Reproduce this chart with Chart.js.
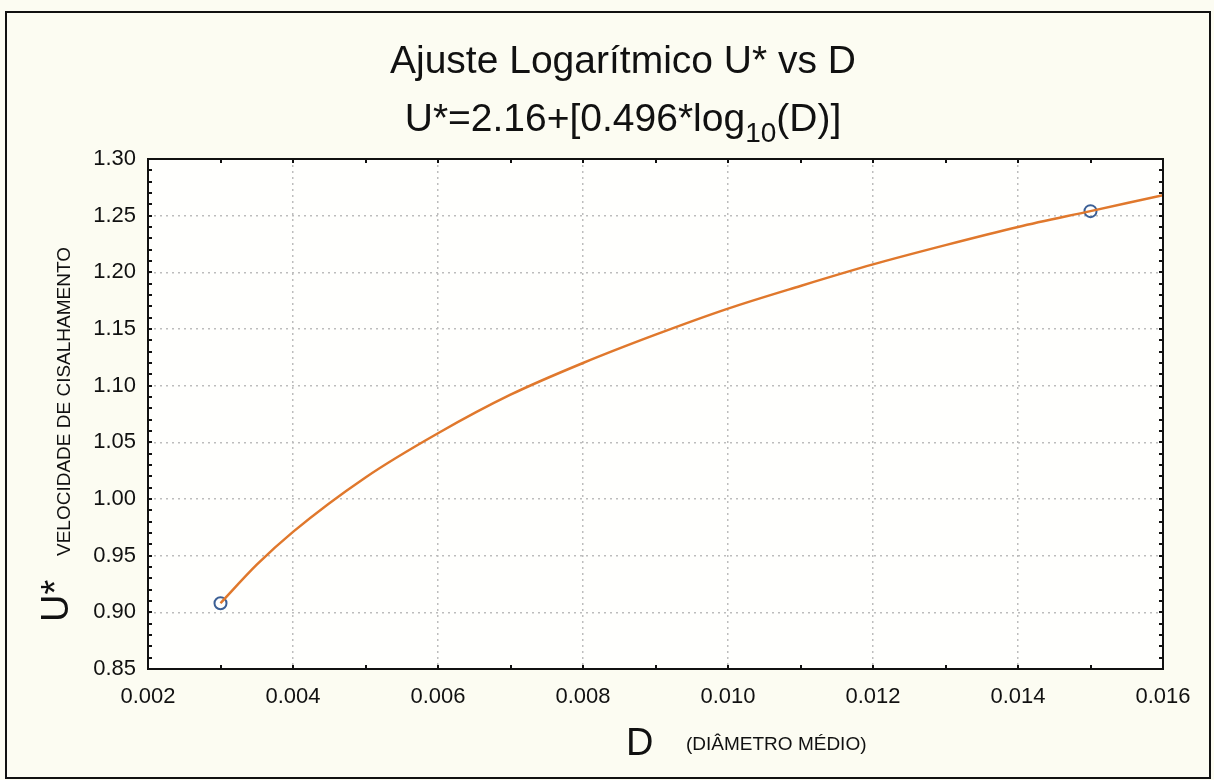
<!DOCTYPE html>
<html>
<head>
<meta charset="utf-8">
<script src="https://cdn.jsdelivr.net/npm/chart.js@4"></script>
<style>
    html, body { margin: 0; padding: 0; background: #fcfcf2; }
    #wrap { width: 1214px; height: 780px; }
</style>
</head>
<body>
<div id="wrap"><canvas id="fitChart" width="1214" height="780"></canvas></div>
<script>
// Measured points
const pointD = [0.003, 0.015];
const pointU = [0.908, 1.254];

// Fitted curve, read along D
const curveD = [0.003, 0.0035, 0.004, 0.005, 0.006, 0.007, 0.008, 0.009, 0.010, 0.011, 0.012, 0.013, 0.014, 0.015, 0.016];
const curveU = [0.908, 0.942, 0.971, 1.019, 1.058, 1.092, 1.120, 1.145, 1.168, 1.188, 1.207, 1.224, 1.240, 1.254, 1.268];

// Axis ranges and ticks
const xMin = 0.002, xMax = 0.016, xStep = 0.002, xMinorStep = 0.001;
const yMin = 0.85, yMax = 1.30, yStep = 0.05, yMinorStep = 0.01;

const titleLine1 = 'Ajuste Logarítmico U* vs D';
const titleLine2 = ['U*=2.16+[0.496*log', '10', '(D)]'];
const yTitleBig = 'U*';
const yTitleSmall = 'VELOCIDADE DE CISALHAMENTO';
const xTitleBig = 'D';
const xTitleSmall = '(DIÂMETRO MÉDIO)';

const fontFamily = '"Liberation Sans", Arial, sans-serif';

function toXY(xs, ys) {
    return xs.map((x, i) => ({ x: x, y: ys[i] }));
}

// Background, frame, minor ticks and titles
const decorations = {
    id: 'decorations',
    beforeDraw(chart) {
        const { ctx, chartArea: a } = chart;
        ctx.save();
        ctx.fillStyle = '#fcfcf2';
        ctx.fillRect(0, 0, chart.width, chart.height);
        ctx.fillStyle = '#fffffd';
        ctx.fillRect(a.left, a.top, a.right - a.left, a.bottom - a.top);
        ctx.restore();
    },
    afterDraw(chart) {
        const { ctx, chartArea: a } = chart;
        const xs = chart.scales.x, ys = chart.scales.y;
        ctx.save();

        // outer frame
        ctx.strokeStyle = '#111';
        ctx.lineWidth = 2;
        ctx.strokeRect(6, 12, 1204, 766);

        // plot frame
        ctx.strokeRect(a.left, a.top, a.right - a.left, a.bottom - a.top);

        // minor ticks, pointing inwards on all sides
        ctx.lineWidth = 2;
        ctx.beginPath();
        const nx = Math.round((xMax - xMin) / xMinorStep);
        for (let i = 1; i < nx; i++) {
            const px = Math.round(xs.getPixelForValue(xMin + i * xMinorStep));
            ctx.moveTo(px, a.bottom); ctx.lineTo(px, a.bottom - 4);
            ctx.moveTo(px, a.top); ctx.lineTo(px, a.top + 4);
        }
        const ny = Math.round((yMax - yMin) / yMinorStep);
        for (let i = 1; i < ny; i++) {
            const py = Math.round(ys.getPixelForValue(yMin + i * yMinorStep));
            ctx.moveTo(a.left, py); ctx.lineTo(a.left + 4, py);
            ctx.moveTo(a.right, py); ctx.lineTo(a.right - 4, py);
        }
        ctx.stroke();

        ctx.fillStyle = '#111';

        // title, two lines, second one with a subscript
        const cx = 623;
        ctx.textBaseline = 'alphabetic';
        ctx.textAlign = 'center';
        ctx.font = '39px ' + fontFamily;
        ctx.fillText(titleLine1, cx, 73);

        ctx.textAlign = 'left';
        const bigFont = '39px ' + fontFamily, subFont = '28px ' + fontFamily;
        ctx.font = bigFont;
        const w1 = ctx.measureText(titleLine2[0]).width;
        const w3 = ctx.measureText(titleLine2[2]).width;
        ctx.font = subFont;
        const w2 = ctx.measureText(titleLine2[1]).width;
        let tx = cx - (w1 + w2 + w3) / 2;
        ctx.font = bigFont;
        ctx.fillText(titleLine2[0], tx, 131);
        tx += w1;
        ctx.font = subFont;
        ctx.fillText(titleLine2[1], tx, 142);
        tx += w2;
        ctx.font = bigFont;
        ctx.fillText(titleLine2[2], tx, 131);

        // y axis title, rotated
        ctx.save();
        ctx.translate(68, 622);
        ctx.rotate(-Math.PI / 2);
        ctx.font = '38px ' + fontFamily;
        ctx.fillText(yTitleBig, 0, 0);
        ctx.restore();
        ctx.save();
        ctx.translate(70, 556);
        ctx.rotate(-Math.PI / 2);
        ctx.font = '19px ' + fontFamily;
        ctx.fillText(yTitleSmall, 0, 0);
        ctx.restore();

        // x axis title
        ctx.font = '38px ' + fontFamily;
        ctx.fillText(xTitleBig, 626, 755);
        ctx.font = '19px ' + fontFamily;
        ctx.fillText(xTitleSmall, 686, 750);

        ctx.restore();
    }
};

const ctx = document.getElementById('fitChart').getContext('2d');
const fitChart = new Chart(ctx, {
    type: 'scatter',
    data: {
        datasets: [
            {
                label: 'ajuste',
                data: toXY(curveD, curveU),
                showLine: true,
                borderColor: '#e0782c',
                borderWidth: 2.5,
                pointRadius: 0,
                cubicInterpolationMode: 'monotone',
                fill: false
            },
            {
                label: 'dados',
                data: toXY(pointD, pointU),
                showLine: false,
                pointRadius: 6,
                pointBorderWidth: 2,
                pointBorderColor: '#3b5f95',
                pointBackgroundColor: 'rgba(0,0,0,0)'
            }
        ]
    },
    options: {
        responsive: false,
        animation: false,
        layout: { padding: { left: 0, top: 159, right: 51, bottom: 0 } },
        plugins: {
            legend: { display: false },
            tooltip: { enabled: false }
        },
        scales: {
            x: {
                type: 'linear',
                min: xMin,
                max: xMax,
                afterFit(scale) { scale.height = 111; },
                border: { display: false, dash: [2, 4] },
                grid: {
                    drawTicks: false,
                    color: '#bdbdbd',
                    lineWidth: 1.5
                },
                ticks: {
                    stepSize: xStep,
                    padding: 15,
                    color: '#111',
                    font: { family: fontFamily, size: 22 },
                    callback: v => v.toFixed(3)
                }
            },
            y: {
                type: 'linear',
                min: yMin,
                max: yMax,
                afterFit(scale) { scale.width = 148; },
                border: { display: false, dash: [2, 4] },
                grid: {
                    drawTicks: false,
                    color: '#bdbdbd',
                    lineWidth: 1.5
                },
                ticks: {
                    stepSize: yStep,
                    padding: 12,
                    color: '#111',
                    font: { family: fontFamily, size: 22 },
                    callback: v => v.toFixed(2)
                }
            }
        }
    },
    plugins: [decorations]
});
</script>
</body>
</html>
